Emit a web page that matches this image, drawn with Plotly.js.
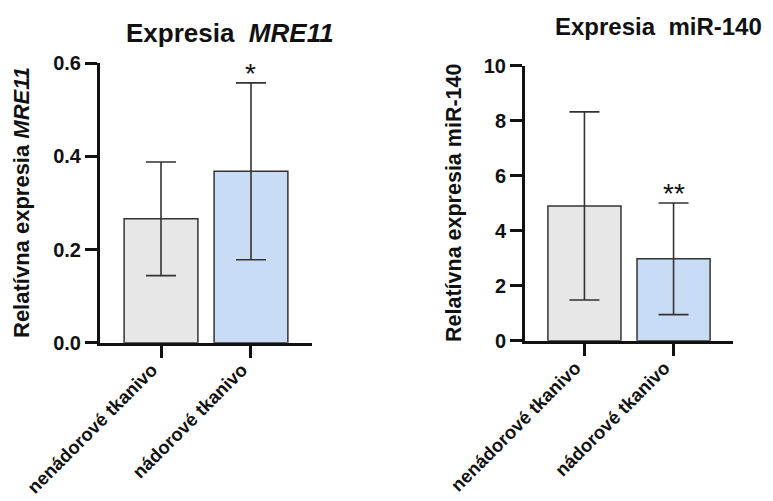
<!DOCTYPE html>
<html>
<head>
<meta charset="utf-8">
<script src="https://cdn.plot.ly/plotly-3.0.1.min.js"></script>
<style>html,body{margin:0;padding:0;background:#fff;}#chart{width:773px;height:501px;}</style>
</head>
<body>
<div id="chart"></div>
<script>
// Data
const categories = ["nenádorové tkanivo", "nádorové tkanivo"];
const mre11Mean = [0.266, 0.368];
const mre11SD = [0.122, 0.19];
const mre11Sig = ["", "*"];
const mir140Mean = [4.90, 2.98];
const mir140SD = [3.42, 2.03];
const mir140Sig = ["", "**"];
const mre11Ticks = [0, 0.2, 0.4, 0.6];
const mre11TickText = ["0.0", "0.2", "0.4", "0.6"];
const mir140Ticks = [0, 2, 4, 6, 8, 10];

const barColors = ["#e7e7e7", "#c9dcf5"];
const FONT = "Liberation Sans, Arial, sans-serif";

function barTrace(y, sd, xa, ya) {
  return {
    type: "bar", x: categories, y: y, xaxis: xa, yaxis: ya,
    width: 0.82,
    marker: {color: barColors, line: {color: "#333333", width: 1.5}},
    error_y: {type: "data", array: sd, visible: true, color: "#333333", thickness: 1.6, width: 15},
    showlegend: false, hoverinfo: "skip"
  };
}

const traces = [
  barTrace(mre11Mean, mre11SD, "x", "y"),
  barTrace(mir140Mean, mir140SD, "x2", "y2")
];

const annotations = [];
function addSig(mean, sd, sig, xref, yref) {
  categories.forEach((c, i) => {
    if (sig[i]) annotations.push({
      x: c, y: mean[i] + sd[i], xref: xref, yref: yref, text: sig[i],
      showarrow: false, yanchor: "bottom", yshift: -8,
      font: {family: FONT, size: 28, color: "#111"}
    });
  });
}
addSig(mre11Mean, mre11SD, mre11Sig, "x", "y");
addSig(mir140Mean, mir140SD, mir140Sig, "x2", "y2");

annotations.push({
  text: "<b>Expresia  <i>MRE11</i></b>", xref: "paper", yref: "paper",
  x: 230/773, y: 1 - 33/501, showarrow: false, xanchor: "center", yanchor: "middle",
  font: {family: FONT, size: 26, color: "#111"}
});
annotations.push({
  text: "<b>Expresia  miR-140</b>", xref: "paper", yref: "paper",
  x: 658/773, y: 1 - 27/501, showarrow: false, xanchor: "center", yanchor: "middle",
  font: {family: FONT, size: 24, color: "#111"}
});
annotations.push({
  text: "<b>Relatívna expresia <i>MRE11</i></b>", xref: "paper", yref: "paper",
  x: 21/773, y: 1 - 203/501, showarrow: false, xanchor: "center", yanchor: "middle", textangle: -90,
  font: {family: FONT, size: 22, color: "#111"}
});
annotations.push({
  text: "<b>Relatívna expresia miR-140</b>", xref: "paper", yref: "paper",
  x: 454/773, y: 1 - 203/501, showarrow: false, xanchor: "center", yanchor: "middle", textangle: -90,
  font: {family: FONT, size: 21.5, color: "#111"}
});

const xCommon = {
  type: "category", showline: true, linecolor: "#111", linewidth: 3,
  ticks: "outside", ticklen: 12, tickwidth: 3, tickcolor: "#111",
  tickangle: -45, showgrid: false, zeroline: false,
  ticklabelshift: -9, ticklabelstandoff: -6,
  tickfont: {family: FONT, size: 18.5, color: "#111", weight: "bold"}
};
const yCommon = {
  showline: true, linecolor: "#111", linewidth: 3,
  ticks: "outside", ticklen: 12, tickwidth: 3, tickcolor: "#111",
  showgrid: false, zeroline: false,
  tickfont: {family: FONT, size: 20, color: "#111", weight: "bold"}
};

const layout = {
  width: 773, height: 501,
  margin: {l: 0, r: 0, t: 0, b: 0},
  paper_bgcolor: "#fff", plot_bgcolor: "#fff",
  bargap: 0.18,
  xaxis: Object.assign({}, xCommon, {domain: [100/773, 312/773], range: [-0.678, 1.678], anchor: "y"}),
  yaxis: Object.assign({}, yCommon, {domain: [1 - 342.7/501, 1 - 63.3/501], range: [0, 0.6],
    tickvals: mre11Ticks, ticktext: mre11TickText, anchor: "x"}),
  xaxis2: Object.assign({}, xCommon, {domain: [525/773, 733/773], range: [-0.667, 1.667], anchor: "y2"}),
  yaxis2: Object.assign({}, yCommon, {domain: [1 - 340.7/501, 1 - 65.7/501], range: [0, 10],
    tickvals: mir140Ticks, anchor: "x2"}),
  annotations: annotations
};

Plotly.newPlot("chart", traces, layout, {staticPlot: true, displayModeBar: false});
</script>
</body>
</html>
